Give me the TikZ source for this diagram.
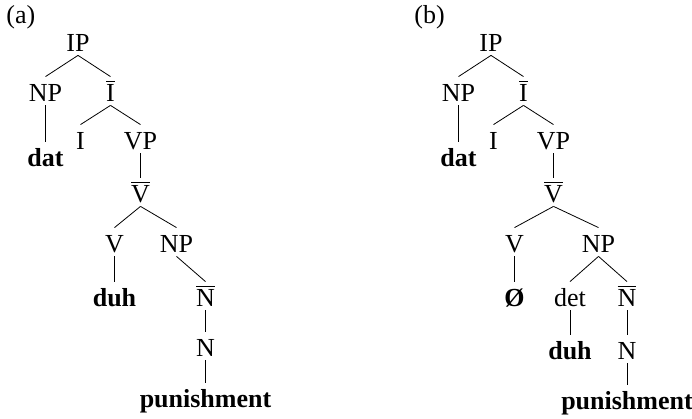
\documentclass[tikz,border=0pt]{standalone}
\usepackage{fontspec}
\setmainfont{Liberation Serif}
\newcommand{\treefont}{\fontsize{26}{31}\selectfont}
\newcommand{\barcat}[1]{\leavevmode\vbox{\hrule height 1pt \kern 2.5pt \hbox{#1}}}

\begin{document}
\begin{tikzpicture}[x=1pt, y=1pt, font=\treefont, line width=0.8pt,
        parent anchor=south, child anchor=north]
            \tikzstyle{level 1}=[level distance=50pt, sibling distance=65pt]
            \tikzstyle{level 2}=[level distance=48pt, sibling distance=60pt]
            \tikzstyle{level 3}=[level distance=53pt]
            \tikzstyle{level 4}=[level distance=50pt, sibling distance=62pt]
            \tikzstyle{level 5}=[level distance=54pt, sibling distance=57pt]
            \tikzstyle{level 6}=[level distance=50pt]
            \tikzstyle{level 7}=[level distance=51pt]
            \tikzstyle{cat} = [inner sep=3pt, text height=22pt, text depth=0pt]
            \tikzstyle{word} = [cat, font=\treefont\bfseries]
            \tikzstyle{tag} = [anchor=base west, inner sep=0pt]

            \useasboundingbox (0,0) rectangle (692,419);

            % (a)
            \node [tag] (alabel) at (6,395) {(a)};
            \node [cat] (aIP) at (78,378) {IP}
            child {
                    node [cat] (aNP) {NP}
                    child {
                            node [word, yshift=-17pt] (adat) {dat}
                        }
                }
            child {
                    node [cat] (aIbar) {\barcat{I}}
                    child {
                            node [cat] (aI) {I}
                        }
                    child {
                            node [cat] (aVP) {VP}
                            child {
                                    node [cat] (aVbar) {\barcat{V}}
                                    child [xshift=5pt] {
                                            node [cat] (aV) {V}
                                            child {
                                                    node [word] (aduh) {duh}
                                                }
                                        }
                                    child [xshift=5pt] {
                                            node [cat] (aNP2) {NP}
                                            child [xshift=29pt] {
                                                    node [cat] (aNbar) {\barcat{N}}
                                                    child {
                                                            node [cat] (aN) {N}
                                                            child {
                                                                    node [word] (apun) {punishment}
                                                                }
                                                        }
                                                }
                                        }
                                }
                        }
                };

            % (b)
            \begin{scope}
            \tikzstyle{level 4}=[level distance=50pt, sibling distance=84pt]
            \tikzstyle{level 6}=[level distance=53pt]
            \tikzstyle{level 7}=[level distance=50pt]
            \node [tag] (blabel) at (414,395) {(b)};
            \node [cat] (bIP) at (491,378) {IP}
            child {
                    node [cat] (bNP) {NP}
                    child {
                            node [word, yshift=-17pt] (bdat) {dat}
                        }
                }
            child {
                    node [cat] (bIbar) {\barcat{I}}
                    child {
                            node [cat] (bI) {I}
                        }
                    child {
                            node [cat] (bVP) {VP}
                            child {
                                    node [cat] (bVbar) {\barcat{V}}
                                    child [xshift=3pt] {
                                            node [cat] (bV) {V}
                                            child {
                                                    node [word] (bnull) {Ø}
                                                }
                                        }
                                    child [xshift=3pt] {
                                            node [cat] (bNP2) {NP}
                                            child {
                                                    node [cat] (bdet) {det}
                                                    child {
                                                            node [word] (bduh) {duh}
                                                        }
                                                }
                                            child {
                                                    node [cat] (bNbar) {\barcat{N}}
                                                    child {
                                                            node [cat] (bN) {N}
                                                            child {
                                                                    node [word] (bpun) {punishment}
                                                                }
                                                        }
                                                }
                                        }
                                }
                        }
                };
            \end{scope}
        \end{tikzpicture}
\end{document}
